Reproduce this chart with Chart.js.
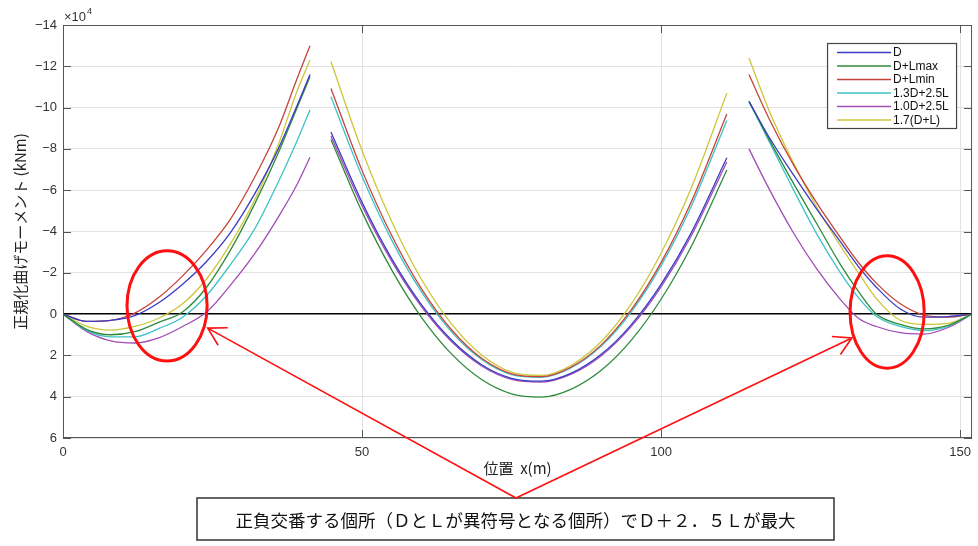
<!DOCTYPE html>
<html>
<head>
<meta charset="utf-8">
<script src="https://cdn.jsdelivr.net/npm/chart.js@4.4.0/dist/chart.umd.min.js"></script>
<style>
  html, body { margin: 0; padding: 0; background: #fff; }
  #wrap { width: 978px; height: 546px; }
</style>
</head>
<body>
<div id="wrap"><canvas id="momentChart" width="978" height="546"></canvas></div>
<script>
// positions along the bridge (m), one array per span
const xLeft = [0, 4, 8, 12, 16, 20, 24, 28, 32, 36, 39, 41.3];
const xMid = [44.8, 50, 55, 60, 65, 70, 75, 80, 85, 90, 95, 100, 105, 111];
const xRight = [114.7, 118, 122, 126, 130, 133, 136, 140, 144, 148, 152];

// normalised bending moment (x10^4 kNm)
const dLeft = [0, 0.35, 0.3, 0.07, -0.55, -1.45, -2.55, -3.95, -5.8, -8.0, -10.0, -11.6];
const dMid = [-8.82, -5.41, -2.66, -0.43, 1.27, 2.45, 3.11, 3.25, 2.86, 1.95, 0.52, -1.44, -3.91, -7.57];
const dRight = [-10.3, -8.6, -6.8, -5.1, -3.5, -2.3, -1.3, -0.25, 0.15, 0.12, 0];

const lmaxLeft = [0, 0.75, 1.0, 0.85, 0.4, -0.1, -1.3, -3.1, -5.3, -7.8, -9.9, -11.5];
const lmaxMid = [-8.46, -4.95, -2.12, 0.18, 1.94, 3.17, 3.86, 4.02, 3.63, 2.72, 1.27, -0.72, -3.25, -6.98];
const lmaxRight = [-10.3, -8.5, -6.4, -4.4, -2.4, -1.1, 0.0, 0.5, 0.72, 0.55, 0];

const lminLeft = [0, 0.35, 0.3, -0.05, -0.8, -1.85, -3.1, -4.6, -6.6, -9.0, -11.3, -13.0];
const lminMid = [-10.93, -6.96, -3.78, -1.2, 0.77, 2.14, 2.89, 3.03, 2.56, 1.49, -0.2, -2.49, -5.4, -9.69];
const lminRight = [-11.6, -9.5, -7.3, -5.4, -3.7, -2.5, -1.5, -0.5, 0.05, 0.15, 0];

const c13Left = [0, 0.8, 1.1, 1.1, 0.7, 0.15, -0.9, -2.4, -4.1, -6.4, -8.3, -9.9];
const c13Mid = [-10.53, -6.67, -3.56, -1.05, 0.87, 2.2, 2.93, 3.06, 2.6, 1.55, -0.1, -2.35, -5.19, -9.38];
const c13Right = [-10.3, -8.4, -6.1, -3.9, -2.0, -0.8, 0.1, 0.6, 0.8, 0.6, 0];

const c10Left = [0, 0.85, 1.3, 1.4, 1.15, 0.6, -0.1, -1.4, -2.9, -4.7, -6.2, -7.6];
const c10Mid = [-8.62, -5.25, -2.54, -0.34, 1.34, 2.51, 3.16, 3.29, 2.91, 2.02, 0.61, -1.32, -3.76, -7.37];
const c10Right = [-8.0, -6.1, -4.0, -2.2, -0.7, 0.2, 0.6, 0.9, 0.97, 0.65, 0];

const c17Left = [0, 0.6, 0.78, 0.6, 0.2, -0.5, -1.7, -3.4, -5.5, -8.2, -10.7, -12.3];
const c17Mid = [-12.23, -7.92, -4.46, -1.65, 0.49, 1.98, 2.81, 2.97, 2.48, 1.33, -0.48, -2.95, -6.07, -10.7];
const c17Right = [-12.4, -9.9, -7.4, -5.2, -3.3, -2.0, -0.75, 0.3, 0.5, 0.45, 0];

const seriesLabels = ['D', 'D+Lmax', 'D+Lmin', '1.3D+2.5L', '1.0D+2.5L', '1.7(D+L)'];
const seriesColors = ['#3b3bc4', '#2f8a3c', '#c4443c', '#3ec2c8', '#a04db6', '#cdc63a'];

const xTickValues = [0, 50, 100, 150];
const yTickValues = [-14, -12, -10, -8, -6, -4, -2, 0, 2, 4, 6];

// annotation: circled crossing zones and arrow tips (data units)
const ellipseCenters = [[17.4, -0.4], [137.8, -0.1]];
const ellipseRadii = [[6.7, 2.67], [6.2, 2.72]];
const arrowTips = [[24.2, 0.68], [131.9, 1.16]];
const noteText = '正負交番する個所（ＤとＬが異符号となる個所）でＤ＋２．５Ｌが最大';

const spans = (l, m, r) => [
  ...xLeft.map((x, i) => ({ x, y: l[i] })),
  { x: 43, y: null },
  ...xMid.map((x, i) => ({ x, y: m[i] })),
  { x: 113, y: null },
  ...xRight.map((x, i) => ({ x, y: r[i] }))
];

const seriesData = [
  spans(dLeft, dMid, dRight),
  spans(lmaxLeft, lmaxMid, lmaxRight),
  spans(lminLeft, lminMid, lminRight),
  spans(c13Left, c13Mid, c13Right),
  spans(c10Left, c10Mid, c10Right),
  spans(c17Left, c17Mid, c17Right)
];

const JP = "'Noto Sans CJK JP', sans-serif";
Chart.defaults.font.family = "'Liberation Sans', Arial, sans-serif";

const overlay = {
  id: 'overlay',
  afterDraw(chart) {
    const { ctx, chartArea: a, scales: { x, y } } = chart;
    ctx.save();

    // axes box with inward ticks
    ctx.strokeStyle = '#555';
    ctx.lineWidth = 1;
    ctx.strokeRect(a.left + 0.5, a.top + 0.5, a.right - a.left - 1, a.bottom - a.top - 1);
    ctx.beginPath();
    y.ticks.forEach(t => {
      const py = Math.round(y.getPixelForValue(t.value)) + 0.5;
      ctx.moveTo(a.left, py); ctx.lineTo(a.left + 8, py);
      ctx.moveTo(a.right - 8, py); ctx.lineTo(a.right, py);
    });
    x.ticks.forEach(t => {
      const px = Math.round(x.getPixelForValue(t.value)) + 0.5;
      ctx.moveTo(px, a.bottom); ctx.lineTo(px, a.bottom - 8);
      ctx.moveTo(px, a.top); ctx.lineTo(px, a.top + 8);
    });
    ctx.stroke();

    // x10^4 multiplier
    ctx.fillStyle = '#333';
    ctx.textBaseline = 'alphabetic';
    ctx.textAlign = 'left';
    ctx.font = "13px 'Liberation Sans', Arial, sans-serif";
    ctx.fillText('×10', a.left + 1, a.top - 4);
    const w10 = ctx.measureText('×10').width;
    ctx.font = "9px 'Liberation Sans', Arial, sans-serif";
    ctx.fillText('4', a.left + 1 + w10 + 1, a.top - 11);

    // legend box
    const lx = a.right - 145, ly = a.top + 18, lw = 129, lh = 85;
    ctx.fillStyle = '#fff';
    ctx.fillRect(lx, ly, lw, lh);
    ctx.strokeStyle = '#444';
    ctx.lineWidth = 1.2;
    ctx.strokeRect(lx + 0.5, ly + 0.5, lw, lh);
    ctx.font = "12px 'Liberation Sans', Arial, sans-serif";
    ctx.textBaseline = 'middle';
    chart.data.datasets.forEach((ds, i) => {
      const yy = ly + 9.5 + i * 13.5;
      ctx.strokeStyle = ds.borderColor;
      ctx.lineWidth = 1.6;
      ctx.beginPath();
      ctx.moveTo(lx + 10, yy); ctx.lineTo(lx + 64, yy);
      ctx.stroke();
      ctx.fillStyle = '#111';
      ctx.fillText(ds.label, lx + 66, yy + 0.5);
    });

    // red ellipses
    ctx.strokeStyle = '#ff1010';
    ctx.lineWidth = 3;
    ellipseCenters.forEach(([cx, cy], i) => {
      const px = x.getPixelForValue(cx), py = y.getPixelForValue(cy);
      const rx = Math.abs(x.getPixelForValue(cx + ellipseRadii[i][0]) - px);
      const ry = Math.abs(y.getPixelForValue(cy + ellipseRadii[i][1]) - py);
      ctx.beginPath();
      ctx.ellipse(px, py, rx, ry, 0, 0, Math.PI * 2);
      ctx.stroke();
    });

    // note box
    const bx = 197, by = 498, bw = 637, bh = 42;
    ctx.fillStyle = '#fff';
    ctx.fillRect(bx, by, bw, bh);
    ctx.strokeStyle = '#333';
    ctx.lineWidth = 1.5;
    ctx.strokeRect(bx, by, bw, bh);
    ctx.fillStyle = '#111';
    ctx.font = '17.5px ' + JP;
    ctx.textAlign = 'center';
    ctx.textBaseline = 'middle';
    ctx.fillText(noteText, bx + bw / 2, by + bh / 2 + 1);

    // arrows from the note box to the circled zones
    const ax = 516, ay = by;
    ctx.strokeStyle = '#ff1010';
    ctx.lineWidth = 1.6;
    arrowTips.forEach(([tx, ty]) => {
      const px = x.getPixelForValue(tx), py = y.getPixelForValue(ty);
      const ang = Math.atan2(ay - py, ax - px);
      ctx.beginPath();
      ctx.moveTo(ax, ay); ctx.lineTo(px, py);
      ctx.moveTo(px + 20 * Math.cos(ang - 0.52), py + 20 * Math.sin(ang - 0.52));
      ctx.lineTo(px, py);
      ctx.lineTo(px + 20 * Math.cos(ang + 0.52), py + 20 * Math.sin(ang + 0.52));
      ctx.stroke();
    });

    ctx.restore();
  }
};

new Chart(document.getElementById('momentChart').getContext('2d'), {
  type: 'line',
  data: {
    datasets: seriesLabels.map((label, i) => ({
      label,
      data: seriesData[i],
      borderColor: seriesColors[i],
      backgroundColor: seriesColors[i],
      borderWidth: 1.3,
      pointRadius: 0,
      cubicInterpolationMode: 'monotone',
      spanGaps: false,
      fill: false
    }))
  },
  options: {
    responsive: false,
    animation: false,
    devicePixelRatio: 1,
    layout: { padding: { top: 25, right: 5, left: 0, bottom: 0 } },
    plugins: { legend: { display: false }, tooltip: { enabled: false } },
    scales: {
      x: {
        type: 'linear',
        min: 0,
        max: 152,
        afterBuildTicks: s => { s.ticks = xTickValues.map(v => ({ value: v })); },
        afterFit: s => { s.height = 108; },
        grid: { color: '#e2e2e2', drawTicks: false },
        border: { display: false },
        ticks: { padding: 7, color: '#333', font: { size: 13 } },
        title: {
          display: true,
          text: '位置  x(m)',
          color: '#222',
          font: { family: JP, size: 15 },
          padding: { top: 0, bottom: 69 }
        }
      },
      y: {
        type: 'linear',
        reverse: true,
        min: -14,
        max: 6,
        afterBuildTicks: s => { s.ticks = yTickValues.map(v => ({ value: v })); },
        afterFit: s => { s.width = 63; },
        grid: {
          drawTicks: false,
          color: c => (c.tick && c.tick.value === 0 ? '#000' : '#e2e2e2'),
          lineWidth: c => (c.tick && c.tick.value === 0 ? 1.5 : 1)
        },
        border: { display: false },
        ticks: {
          padding: 6,
          color: '#333',
          font: { size: 13 },
          callback: v => (v < 0 ? '−' + Math.abs(v) : String(v))
        },
        title: {
          display: true,
          text: '正規化曲げモーメント (kNm)',
          color: '#222',
          font: { family: JP, size: 15 },
          padding: { top: 11, bottom: 0 }
        }
      }
    }
  },
  plugins: [overlay]
});
</script>
</body>
</html>
